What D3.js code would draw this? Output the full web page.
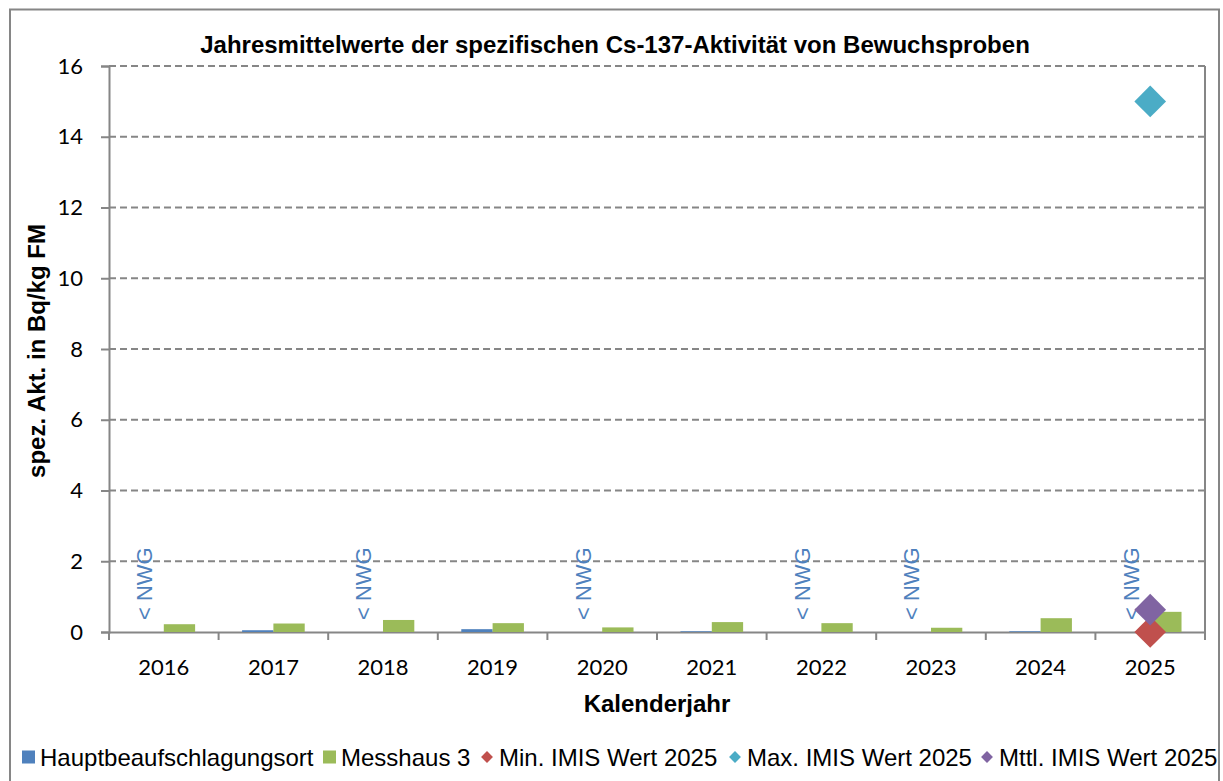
<!DOCTYPE html>
<html>
<head>
<meta charset="utf-8">
<script src="https://cdn.jsdelivr.net/npm/d3@7"></script>
<style>
  body { margin: 0; background: #fff; }
  svg { display: block; }
</style>
</head>
<body>
<svg id="chart" width="1223" height="781"></svg>
<script>
// data
const years = ["2016", "2017", "2018", "2019", "2020", "2021", "2022", "2023", "2024", "2025"];
const hauptValues = [0, 0.05, 0, 0.08, 0, 0.02, 0, 0, 0.02, 0];
const messhausValues = [0.22, 0.24, 0.34, 0.25, 0.13, 0.28, 0.25, 0.12, 0.39, 0.57];
const nwgYears = ["2016", "2018", "2020", "2022", "2023", "2025"];
const imisYear = "2025";
const imisMin = 0;
const imisMax = 15;
const imisMean = 0.63;
const yTicks = [0, 2, 4, 6, 8, 10, 12, 14, 16];

const svg = d3.select("#chart");
const margin = { top: 66, left: 109, right: 18, bottom: 149 };
const plotW = 1205 - margin.left;
const plotH = 632 - margin.top;
const axisColor = "#868686";
const tickFont = "Lato, 'Open Sans', sans-serif";
const textFont = "'Liberation Sans', Arial, sans-serif";

// outer frame
svg.append("rect")
  .attr("x", 10).attr("y", 9.5)
  .attr("width", 1209).attr("height", 790)
  .attr("fill", "none")
  .attr("stroke", axisColor)
  .attr("stroke-width", 2);

const g = svg.append("g")
  .attr("transform", `translate(${margin.left},${margin.top})`);

const x0 = d3.scaleBand().domain(years).range([0, plotW]).paddingInner(0).paddingOuter(0);
// two bars per group, gap = 1.5 x bar width
const barW = x0.bandwidth() / 3.5;
const y = d3.scaleLinear().domain([0, 16]).range([plotH, 0]);

// grid lines
g.selectAll("line.grid")
  .data(yTicks.filter(d => d > 0))
  .enter().append("line")
  .attr("class", "grid")
  .attr("x1", 0).attr("x2", plotW)
  .attr("y1", d => y(d)).attr("y2", d => y(d))
  .attr("stroke", axisColor)
  .attr("stroke-width", 2)
  .attr("stroke-dasharray", "7,4");

// y axis
const yAxis = g.append("g")
  .call(d3.axisLeft(y).tickValues(yTicks).tickSize(8).tickPadding(18).tickFormat(d3.format("d")));
yAxis.select(".domain").attr("stroke", axisColor).attr("stroke-width", 2);
yAxis.selectAll(".tick line").attr("stroke", axisColor).attr("stroke-width", 2);
yAxis.selectAll(".tick text")
  .attr("font-family", tickFont).attr("font-size", 22).attr("fill", "#000");

// right border of plot area
g.append("line")
  .attr("x1", plotW).attr("x2", plotW)
  .attr("y1", 0).attr("y2", plotH)
  .attr("stroke", axisColor).attr("stroke-width", 2);

// x axis
const xAxis = g.append("g")
  .attr("transform", `translate(0,${plotH})`)
  .call(d3.axisBottom(x0).tickSize(0));
xAxis.select(".domain").attr("stroke", axisColor).attr("stroke-width", 2);
xAxis.selectAll(".tick text")
  .attr("y", 43).attr("dy", 0)
  .attr("font-family", tickFont).attr("font-size", 22).attr("fill", "#000");
// category boundary ticks
g.selectAll("line.xtick")
  .data(years.concat(["end"]))
  .enter().append("line")
  .attr("class", "xtick")
  .attr("x1", (d, i) => i * x0.bandwidth())
  .attr("x2", (d, i) => i * x0.bandwidth())
  .attr("y1", plotH).attr("y2", plotH + 8)
  .attr("stroke", axisColor).attr("stroke-width", 2);

// bars
const groupStart = d => x0(d) + (x0.bandwidth() - 2 * barW) / 2;
g.selectAll("rect.haupt")
  .data(years)
  .enter().append("rect")
  .attr("class", "haupt")
  .attr("x", d => groupStart(d))
  .attr("width", barW)
  .attr("y", (d, i) => y(hauptValues[i]))
  .attr("height", (d, i) => plotH - y(hauptValues[i]))
  .attr("fill", "#4F81BD");

g.selectAll("rect.mess")
  .data(years)
  .enter().append("rect")
  .attr("class", "mess")
  .attr("x", d => groupStart(d) + barW)
  .attr("width", barW)
  .attr("y", (d, i) => y(messhausValues[i]))
  .attr("height", (d, i) => plotH - y(messhausValues[i]))
  .attr("fill", "#9BBB59");

// "< NWG" labels
g.selectAll("text.nwg")
  .data(nwgYears)
  .enter().append("text")
  .attr("class", "nwg")
  .attr("transform", d => `translate(${groupStart(d) + barW / 2 + 4},${plotH - 12}) rotate(-90)`)
  .attr("font-family", textFont)
  .attr("font-size", 22)
  .attr("fill", "#4F81BD")
  .text("< NWG");

// IMIS markers
const diamond = d3.symbol().type(d3.symbolDiamond2).size(640);
const imis = [
  { v: imisMin, c: "#C0504D" },
  { v: imisMax, c: "#4BACC6" },
  { v: imisMean, c: "#8064A2" }
];
g.selectAll("path.imis")
  .data(imis)
  .enter().append("path")
  .attr("class", "imis")
  .attr("d", diamond)
  .attr("transform", d => `translate(${x0(imisYear) + x0.bandwidth() / 2},${y(d.v)})`)
  .attr("fill", d => d.c);

// titles
svg.append("text")
  .attr("x", 615).attr("y", 53)
  .attr("text-anchor", "middle")
  .attr("font-family", textFont).attr("font-weight", "bold").attr("font-size", 24)
  .text("Jahresmittelwerte der spezifischen Cs-137-Aktivität von Bewuchsproben");

svg.append("text")
  .attr("transform", "translate(45,351) rotate(-90)")
  .attr("text-anchor", "middle")
  .attr("font-family", textFont).attr("font-weight", "bold").attr("font-size", 24)
  .text("spez. Akt. in Bq/kg FM");

svg.append("text")
  .attr("x", margin.left + plotW / 2).attr("y", 712)
  .attr("text-anchor", "middle")
  .attr("font-family", textFont).attr("font-weight", "bold").attr("font-size", 24)
  .text("Kalenderjahr");

// legend
const legendItems = [
  { label: "Hauptbeaufschlagungsort", c: "#4F81BD", shape: "square", x: 22 },
  { label: "Messhaus 3", c: "#9BBB59", shape: "square", x: 323 },
  { label: "Min. IMIS Wert 2025", c: "#C0504D", shape: "diamond", x: 480 },
  { label: "Max. IMIS Wert 2025", c: "#4BACC6", shape: "diamond", x: 728 },
  { label: "Mttl. IMIS Wert 2025", c: "#8064A2", shape: "diamond", x: 980 }
];
const legend = svg.selectAll("g.legend")
  .data(legendItems)
  .enter().append("g")
  .attr("class", "legend")
  .attr("transform", d => `translate(${d.x},757)`);
legend.filter(d => d.shape === "square").append("rect")
  .attr("x", 0).attr("y", -6.5).attr("width", 13).attr("height", 13)
  .attr("fill", d => d.c);
legend.filter(d => d.shape === "diamond").append("path")
  .attr("d", d3.symbol().type(d3.symbolDiamond2).size(90))
  .attr("transform", "translate(7,0)")
  .attr("fill", d => d.c);
legend.append("text")
  .attr("x", d => d.shape === "square" ? 18 : 19).attr("y", 8.5)
  .attr("font-family", textFont).attr("font-size", 24)
  .text(d => d.label);
</script>
</body>
</html>
